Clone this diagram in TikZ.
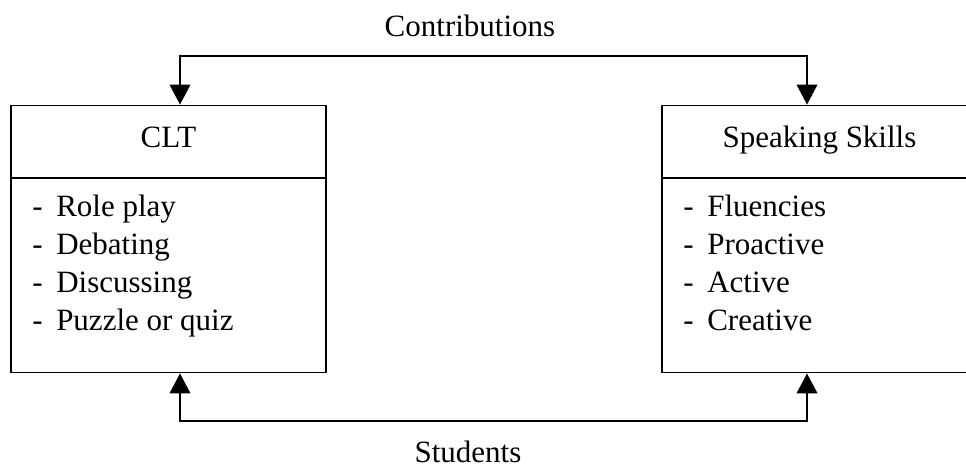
\documentclass[tikz,border=0pt]{standalone}
\usepackage{fontspec}
\setmainfont{Liberation Serif}
\usepackage{tikz}
\usetikzlibrary{arrows.meta}
\tikzset{box/.style={draw, line width=1.4pt, rectangle, minimum width=315*0.75pt, minimum height=267*0.75pt, inner sep=0pt},
         txt/.style={font=\fontsize{23.25}{28}\selectfont, inner sep=0pt},
         link/.style={line width=1.3pt, {Triangle[width=15.5pt,length=15pt]}-{Triangle[width=15.5pt,length=15pt]}}}
\newcommand{\itm}[1]{\hbox to 18pt{-\hfil}#1}

\begin{document}
\begin{tikzpicture}[x=0.75pt, y=-0.75pt]
  \useasboundingbox (0,0) rectangle (966,468);
  \clip (0,0) rectangle (966,468);

  % the two boxes
  \node[box] (clt) at (168.5,239) {};
  \node[box] (ss) at (819.5,239) {};

  % headers
  \node[txt, anchor=base] (clthead) at (168.5,147) {CLT};
  \node[txt, anchor=base] (sshead) at (819.5,147) {Speaking Skills};
  \draw[line width=1.4pt] (clt.west |- 0,178) -- (clt.east |- 0,178);
  \draw[line width=1.4pt] (ss.west |- 0,178) -- (ss.east |- 0,178);

  % lists
  \foreach \t [count=\i from 0] in {Role play, Debating, Discussing, Puzzle or quiz}
    \node[txt, anchor=base west] (cltitem\i) at (32,216+38*\i) {\itm{\t}};
  \foreach \t [count=\i from 0] in {Fluencies, Proactive, Active, Creative}
    \node[txt, anchor=base west] (ssitem\i) at (683,216+38*\i) {\itm{\t}};

  % connectors
  \coordinate (topl) at (180,56);
  \coordinate (topr) at (807,56);
  \coordinate (botl) at (180,421);
  \coordinate (botr) at (807,421);
  \draw[link] (clt.north -| topl) -- (topl) -- (topr) -- (ss.north -| topr);
  \draw[link] (clt.south -| botl) -- (botl) -- (botr) -- (ss.south -| botr);

  % labels
  \node[txt, anchor=base] (contrib) at (470,36) {Contributions};
  \node[txt, anchor=base] (students) at (468,462) {Students};
\end{tikzpicture}
\end{document}
